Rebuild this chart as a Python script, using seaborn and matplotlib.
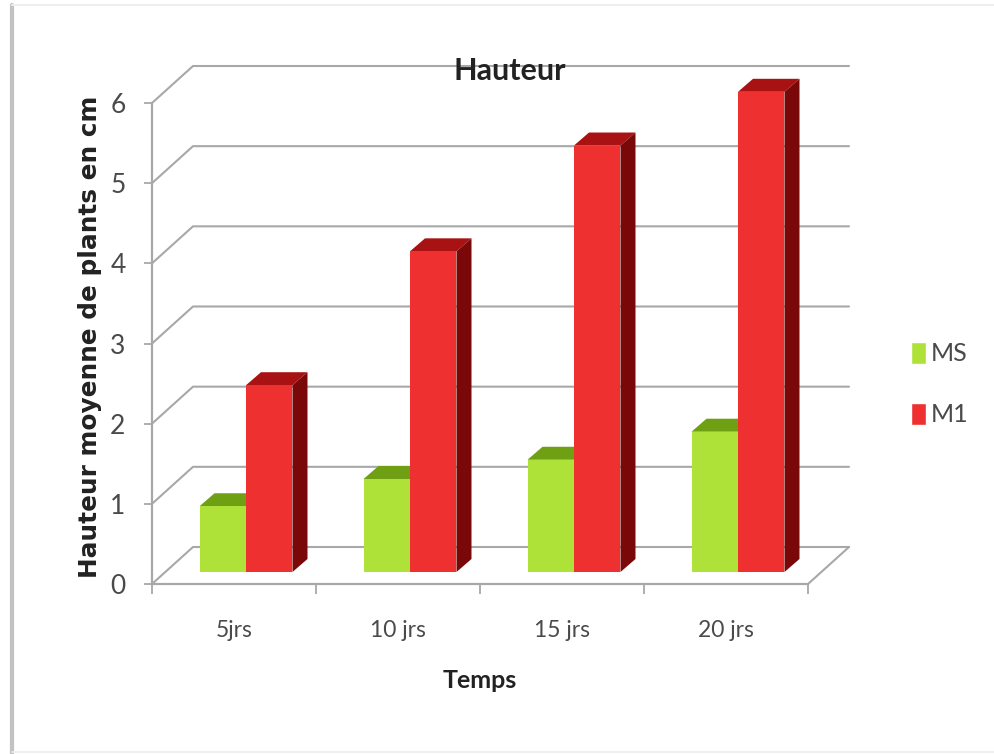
import matplotlib
matplotlib.use("Agg")
import matplotlib.pyplot as plt
import seaborn as sns
import pandas as pd
import numpy as np
from matplotlib.lines import Line2D
from matplotlib.patches import Polygon
from matplotlib.transforms import Affine2D, IdentityTransform

categories = ["5jrs", "10 jrs", "15 jrs", "20 jrs"]
ms_values = [0.82, 1.16, 1.40, 1.75]
m1_values = [2.33, 4.0, 5.32, 5.99]
series_names = ["MS", "M1"]
y_ticks = [0, 1, 2, 3, 4, 5, 6]

W, H = 995, 754
FONT = "Lato"
GREY = "#a8a8a8"
TEXT = "#4a4a4a"
front = {"MS": "#aee239", "M1": "#ee3030"}
top = {"MS": "#6f9f12", "M1": "#a81212"}
side = {"MS": "#6f9f12", "M1": "#7a0808"}

sns.set_theme(style="white")
plt.rcParams["font.family"] = [FONT, "DejaVu Sans"]

df = pd.DataFrame({
    "Temps": categories * 2,
    "Serie": [series_names[0]] * 4 + [series_names[1]] * 4,
    "Hauteur": ms_values + m1_values,
})

fig = plt.figure(figsize=(W / 100, H / 100), dpi=100, facecolor="white")
ax = fig.add_axes([152 / W, 1 - 584 / H, 656 / W, 481 / H], facecolor="none")

sns.barplot(data=df, x="Temps", y="Hauteur", hue="Serie", order=categories,
            hue_order=series_names, palette=front, width=0.567, gap=0,
            saturation=1, errorbar=None, ax=ax, zorder=5)
ax.set_xlim(-0.5, 3.5)
ax.set_ylim(0, 6)
fig.canvas.draw()

# 3D effect: derived from the bars seaborn has drawn
wall = (41, 37)      # depth of the chart walls, in pixels
inset = (12, 12)     # bars stand inside the floor
depth = (15, 13)     # depth of each bar
shift = ax.transData + Affine2D().translate(*inset)
identity = IdentityTransform()

for container, name in zip(ax.containers, series_names):
    for bar in container:
        bar.set_transform(shift)
        bar.set_clip_on(False)
        bar.set_edgecolor("none")
        (x0, y0), (x1, y1) = shift.transform(
            [(bar.get_x(), 0), (bar.get_x() + bar.get_width(), bar.get_height())])
        dx, dy = depth
        ax.add_patch(Polygon([(x0, y1), (x1, y1), (x1 + dx, y1 + dy), (x0 + dx, y1 + dy)],
                             closed=True, transform=identity, facecolor=top[name],
                             edgecolor="none", zorder=4, clip_on=False))
        ax.add_patch(Polygon([(x1, y0), (x1, y1), (x1 + dx, y1 + dy), (x1 + dx, y0 + dy)],
                             closed=True, transform=identity, facecolor=side[name],
                             edgecolor="none", zorder=4.5, clip_on=False))

# back wall grid lines and left wall diagonals
for v in y_ticks:
    (xa, ya), (xb, _) = ax.transData.transform([(-0.5, v), (3.5, v)])
    ax.add_line(Line2D([xa, xa + wall[0], xb + wall[0]], [ya, ya + wall[1], ya + wall[1]],
                       transform=identity, color=GREY, lw=1.5, zorder=1, clip_on=False))
(xb, yb) = ax.transData.transform((3.5, 0))
ax.add_line(Line2D([xb, xb + wall[0]], [yb, yb + wall[1]], transform=identity,
                   color=GREY, lw=1.5, zorder=1, clip_on=False))

# axes
sns.despine(ax=ax)
for s in ("left", "bottom"):
    ax.spines[s].set_color(GREY)
    ax.spines[s].set_linewidth(1.6)
ax.set_yticks(y_ticks)
ax.set_xticks(range(len(categories)))
ax.set_xticklabels(categories)
ax.set_xticks(np.arange(-0.5, 4, 1), minor=True)
ax.tick_params(axis="x", which="major", length=0, pad=26, labelsize=16.5, labelcolor=TEXT)
ax.tick_params(axis="x", which="minor", length=7, width=1.3, color=GREY, direction="out", bottom=True)
ax.tick_params(axis="y", length=6, width=1.3, color=GREY, direction="out", left=True,
               pad=13, labelsize=19, labelcolor=TEXT)

ax.set_xlabel("Temps", fontsize=18, fontweight="bold", color="#222222")
ax.xaxis.set_label_coords(480 / W, 1 - 680 / H, transform=fig.transFigure)
ax.xaxis.label.set_va("center")
ax.set_ylabel("Hauteur moyenne de plants en cm", fontsize=17.8, fontweight="bold",
              family="DejaVu Sans", color="#222222")
ax.yaxis.set_label_coords(90 / W, 1 - 337 / H, transform=fig.transFigure)
ax.yaxis.label.set_va("center")
ax.set_title("Hauteur", fontsize=22, fontweight="bold", color="#222222",
             x=(510 - 152) / 656, y=(584 - 71) / 481, va="center", pad=0)

# legend
handles, labels = ax.get_legend_handles_labels()
ax.legend(handles, labels, loc="center left", bbox_to_anchor=(911 / W, 1 - 384 / H),
          bbox_transform=fig.transFigure, frameon=False, fontsize=18, labelcolor=TEXT,
          handlelength=0.6, handleheight=1.0, handletextpad=0.2, labelspacing=1.5,
          borderpad=0, borderaxespad=0)

# picture frame
fig.add_artist(Line2D([12 / W, 12 / W], [0, 1 - 5 / H], color="#c2c2c2", lw=3))
fig.add_artist(Line2D([12 / W, 1], [1 - 5 / H, 1 - 5 / H], color="#eeeeee", lw=1.5))
fig.add_artist(Line2D([12 / W, 1], [1 - 752 / H, 1 - 752 / H], color="#eeeeee", lw=1.2))

fig.savefig("out.png", dpi=100, facecolor="white")
